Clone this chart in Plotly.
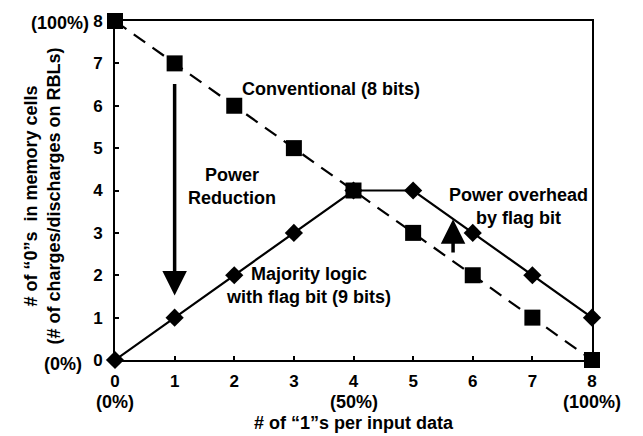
import plotly.graph_objects as go

# Number of "1"s in an 8-bit input word
ones = [0, 1, 2, 3, 4, 5, 6, 7, 8]
# Count of "0"s written into memory cells
conventional = [8, 7, 6, 5, 4, 3, 2, 1, 0]
majority = [0, 1, 2, 3, 4, 4, 3, 2, 1]

x_ticks = [0, 1, 2, 3, 4, 5, 6, 7, 8]
y_ticks = [0, 1, 2, 3, 4, 5, 6, 7, 8]

FONT = "Liberation Sans, Arial, sans-serif"
BOLD = dict(family=FONT, size=18, color="black", weight="bold")

fig = go.Figure()

fig.add_trace(go.Scatter(
    x=ones, y=majority, mode="lines+markers",
    line=dict(color="black", width=2.2),
    marker=dict(symbol="diamond", size=14, color="black"),
    cliponaxis=False, showlegend=False,
))
fig.add_trace(go.Scatter(
    x=ones, y=conventional, mode="lines+markers",
    line=dict(color="black", width=2.2, dash="14px,9px"),
    marker=dict(symbol="square", size=16, color="black"),
    cliponaxis=False, showlegend=False,
))

axis_common = dict(
    showline=True, linecolor="black", linewidth=2, mirror=True,
    ticks="inside", ticklen=4, tickwidth=2, tickcolor="black",
    showgrid=False, zeroline=False,
    tickfont=dict(family=FONT, size=17, color="black", weight="bold"),
)

fig.update_xaxes(range=[0, 8], tickvals=x_ticks, ticklabelstandoff=5, **axis_common)
fig.update_yaxes(range=[0, 8], tickvals=y_ticks, ticklabelstandoff=7, **axis_common)

ann = []
# Percentage labels beside the axis ends
ann.append(dict(x=0, y=8, xref="x", yref="y", text="(100%)", showarrow=False,
                xanchor="right", xshift=-24, yshift=-2, font=BOLD))
ann.append(dict(x=0, y=0, xref="x", yref="y", text="(0%)", showarrow=False,
                xanchor="right", xshift=-31, yshift=-4, font=BOLD))
for xv, t in [(0, "(0%)"), (4, "(50%)"), (8, "(100%)")]:
    ann.append(dict(x=xv, y=0, xref="x", yref="y", text=t, showarrow=False,
                    yanchor="middle", yshift=-42, font=BOLD))

# Axis titles
ann.append(dict(x=0.5, y=0, xref="paper", yref="paper", text="# of “1”s per input data",
                showarrow=False, yanchor="middle", yshift=-63, xshift=0, font=BOLD))
ann.append(dict(x=0, y=0.5, xref="paper", yref="paper",
                text="# of “0”s  in memory cells<br>(# of charges/discharges on RBLs)",
                showarrow=False, textangle=-90, xanchor="center", yanchor="middle",
                xshift=-73, yshift=-6, font=BOLD))

# Series labels
ann.append(dict(x=3.62, y=6.4, xref="x", yref="y", text="Conventional (8 bits)",
                showarrow=False, font=BOLD))
ann.append(dict(x=3.24, y=1.77, xref="x", yref="y",
                text="Majority logic<br>with flag bit (9 bits)", showarrow=False, font=BOLD))
ann.append(dict(x=1.96, y=4.1, xref="x", yref="y", text="Power<br>Reduction",
                showarrow=False, font=BOLD))
ann.append(dict(x=6.77, y=3.62, xref="x", yref="y", text="Power overhead<br>by flag bit",
                showarrow=False, font=BOLD))

# Arrows
ann.append(dict(x=1, y=1.52, ax=1, ay=6.55, xref="x", yref="y", axref="x", ayref="y",
                text="", showarrow=True, arrowhead=2, arrowsize=1.4, arrowwidth=3.5,
                arrowcolor="black"))
ann.append(dict(x=5.67, y=3.32, ax=5.67, ay=2.5, xref="x", yref="y", axref="x", ayref="y",
                text="", showarrow=True, arrowhead=2, arrowsize=1.4, arrowwidth=3.5,
                arrowcolor="black"))

fig.update_layout(
    width=643, height=436,
    margin=dict(l=115, r=51, t=16, b=76),
    paper_bgcolor="white", plot_bgcolor="white",
    annotations=ann,
    font=dict(family=FONT, color="black"),
)

fig.write_html("out.html")
